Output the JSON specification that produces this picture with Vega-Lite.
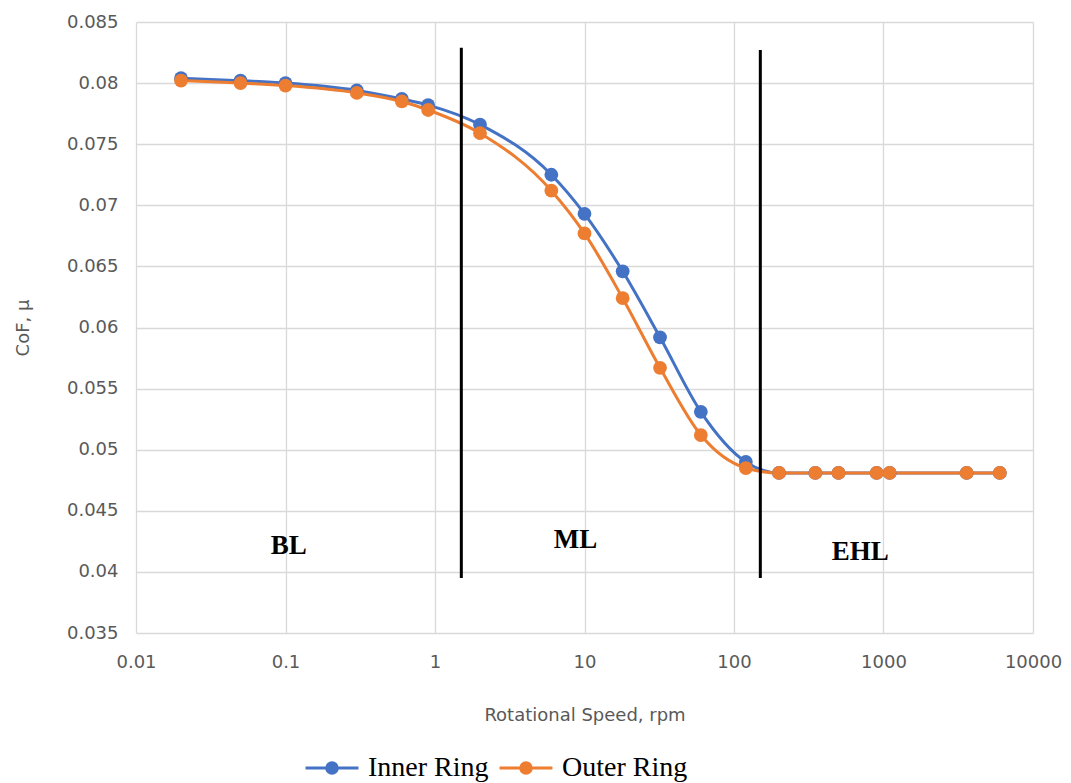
{
  "$schema": "https://vega.github.io/schema/vega-lite/v6.json",
  "autosize": "none",
  "width": 897,
  "height": 611,
  "padding": {"left": 136, "top": 22, "right": 38, "bottom": 150},
  "background": "white",
  "config": {
    "view": {"stroke": null},
    "axis": {"gridColor": "#d9d9d9", "gridWidth": 1.3, "domain": false, "ticks": false,
      "labelFont": "DejaVu Sans", "labelFontSize": 18, "labelColor": "#595959",
      "titleFont": "DejaVu Sans", "titleFontSize": 18, "titleFontWeight": "normal", "titleColor": "#595959"}
  },
  "datasets": {
    "series": [
      {"speed": 0.02, "cof": 0.0804, "ring": "Inner Ring"},
      {"speed": 0.05, "cof": 0.0802, "ring": "Inner Ring"},
      {"speed": 0.1, "cof": 0.0800, "ring": "Inner Ring"},
      {"speed": 0.3, "cof": 0.0794, "ring": "Inner Ring"},
      {"speed": 0.6, "cof": 0.0787, "ring": "Inner Ring"},
      {"speed": 0.9, "cof": 0.0782, "ring": "Inner Ring"},
      {"speed": 2, "cof": 0.0766, "ring": "Inner Ring"},
      {"speed": 6, "cof": 0.0725, "ring": "Inner Ring"},
      {"speed": 10, "cof": 0.0693, "ring": "Inner Ring"},
      {"speed": 18, "cof": 0.0646, "ring": "Inner Ring"},
      {"speed": 32, "cof": 0.0592, "ring": "Inner Ring"},
      {"speed": 60, "cof": 0.0531, "ring": "Inner Ring"},
      {"speed": 120, "cof": 0.0490, "ring": "Inner Ring"},
      {"speed": 200, "cof": 0.0481, "ring": "Inner Ring"},
      {"speed": 350, "cof": 0.0481, "ring": "Inner Ring"},
      {"speed": 500, "cof": 0.0481, "ring": "Inner Ring"},
      {"speed": 900, "cof": 0.0481, "ring": "Inner Ring"},
      {"speed": 1100, "cof": 0.0481, "ring": "Inner Ring"},
      {"speed": 3600, "cof": 0.0481, "ring": "Inner Ring"},
      {"speed": 6000, "cof": 0.0481, "ring": "Inner Ring"},
      {"speed": 0.02, "cof": 0.0802, "ring": "Outer Ring"},
      {"speed": 0.05, "cof": 0.0800, "ring": "Outer Ring"},
      {"speed": 0.1, "cof": 0.0798, "ring": "Outer Ring"},
      {"speed": 0.3, "cof": 0.0792, "ring": "Outer Ring"},
      {"speed": 0.6, "cof": 0.0785, "ring": "Outer Ring"},
      {"speed": 0.9, "cof": 0.0778, "ring": "Outer Ring"},
      {"speed": 2, "cof": 0.0759, "ring": "Outer Ring"},
      {"speed": 6, "cof": 0.0712, "ring": "Outer Ring"},
      {"speed": 10, "cof": 0.0677, "ring": "Outer Ring"},
      {"speed": 18, "cof": 0.0624, "ring": "Outer Ring"},
      {"speed": 32, "cof": 0.0567, "ring": "Outer Ring"},
      {"speed": 60, "cof": 0.0512, "ring": "Outer Ring"},
      {"speed": 120, "cof": 0.0485, "ring": "Outer Ring"},
      {"speed": 200, "cof": 0.0481, "ring": "Outer Ring"},
      {"speed": 350, "cof": 0.0481, "ring": "Outer Ring"},
      {"speed": 500, "cof": 0.0481, "ring": "Outer Ring"},
      {"speed": 900, "cof": 0.0481, "ring": "Outer Ring"},
      {"speed": 1100, "cof": 0.0481, "ring": "Outer Ring"},
      {"speed": 3600, "cof": 0.0481, "ring": "Outer Ring"},
      {"speed": 6000, "cof": 0.0481, "ring": "Outer Ring"}
    ],
    "bounds": [
      {"speed": 1.5, "top": 0.0829, "bottom": 0.0395},
      {"speed": 150, "top": 0.0827, "bottom": 0.0395}
    ],
    "regions": [
      {"speed": 0.105, "cof": 0.0421, "label": "BL"},
      {"speed": 8.7, "cof": 0.0426, "label": "ML"},
      {"speed": 700, "cof": 0.0416, "label": "EHL"}
    ]
  },
  "encoding": {
    "x": {"field": "speed", "type": "quantitative",
      "scale": {"type": "log", "domain": [0.01, 10000], "nice": false},
      "axis": {"values": [0.01, 0.1, 1, 10, 100, 1000, 10000], "format": "~g", "title": "Rotational Speed, rpm",
        "labelPadding": 20, "titlePadding": 35, "labelFlush": false}}
  },
  "layer": [
    {
      "data": {"name": "series"},
      "mark": {"type": "line", "interpolate": "monotone", "strokeWidth": 3},
      "encoding": {
        "y": {"field": "cof", "type": "quantitative",
          "scale": {"domain": [0.035, 0.085], "nice": false, "zero": false},
          "axis": {"values": [0.035, 0.04, 0.045, 0.05, 0.055, 0.06, 0.065, 0.07, 0.075, 0.08, 0.085], "format": ".3~f",
            "title": "CoF, μ", "labelPadding": 18, "titlePadding": 34}},
        "color": {"field": "ring", "type": "nominal",
          "scale": {"domain": ["Inner Ring", "Outer Ring"], "range": ["#4472C4", "#ED7D31"]},
          "legend": {"title": null, "orient": "none", "legendX": 168, "legendY": 718, "direction": "horizontal",
            "symbolType": "M-1,0H1M-0.2,0A0.2,0.2 0 1,1 0.2,0A0.2,0.2 0 1,1 -0.2,0Z",
            "symbolSize": 2800, "symbolStrokeWidth": 3,
            "labelFont": "Liberation Serif", "labelFontSize": 28, "labelColor": "#000000",
            "columnPadding": 4, "labelOffset": 8,
            "encode": {"symbols": {"update": {"fill": {"scale": "color", "field": "value"}, "stroke": {"scale": "color", "field": "value"}, "fillOpacity": {"value": 1}}}}}}
      }
    },
    {
      "data": {"name": "series"},
      "mark": {"type": "point", "filled": true, "size": 190, "opacity": 1},
      "encoding": {
        "y": {"field": "cof", "type": "quantitative"},
        "color": {"field": "ring", "type": "nominal"}
      }
    },
    {
      "data": {"name": "bounds"},
      "mark": {"type": "rule", "color": "black", "strokeWidth": 3},
      "encoding": {
        "y": {"field": "top", "type": "quantitative"},
        "y2": {"field": "bottom"}
      }
    },
    {
      "data": {"name": "regions"},
      "mark": {"type": "text", "font": "Liberation Serif", "fontWeight": "bold", "fontSize": 27, "color": "black"},
      "encoding": {
        "y": {"field": "cof", "type": "quantitative"},
        "text": {"field": "label"}
      }
    }
  ]
}
